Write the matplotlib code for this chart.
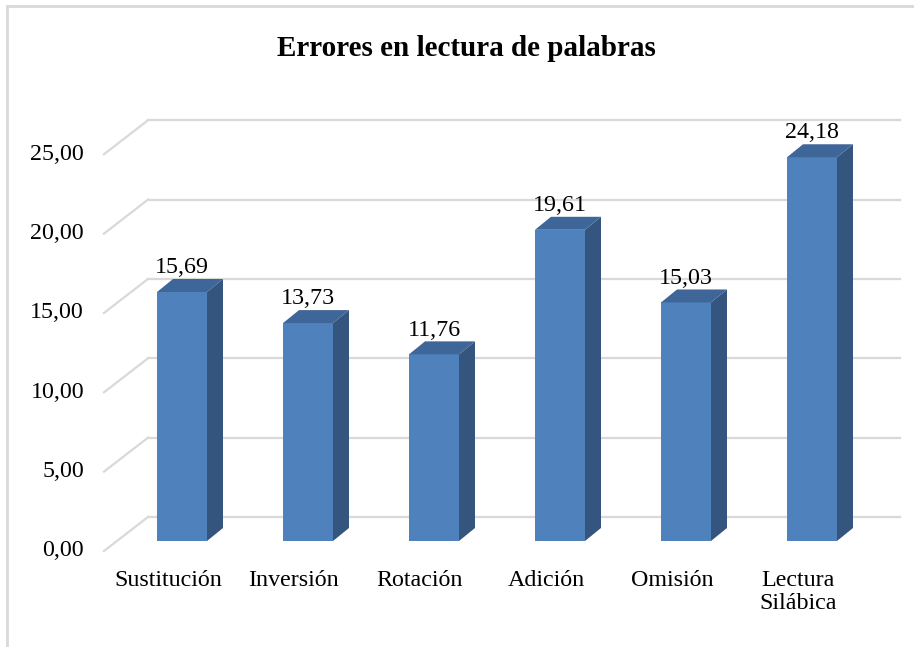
import matplotlib.pyplot as plt
from matplotlib.patches import Polygon, Rectangle
import numpy as np

plt.rcParams['font.family'] = ['Liberation Serif', 'DejaVu Serif']

categorias = ['Sustitución', 'Inversión', 'Rotación', 'Adición', 'Omisión', 'Lectura\nSilábica']
valores = [15.69, 13.73, 11.76, 19.61, 15.03, 24.18]
ticks = [0, 5, 10, 15, 20, 25]
tick_labels = ['0,00', '5,00', '10,00', '15,00', '20,00', '25,00']

front = '#4F81BD'
side = '#34557E'
top = '#3F6699'
grid = '#D9D9D9'

# pixel geometry of the 3d look, converted to data units
sx = 126.0   # px per category
sy = 15.87   # px per unit
ancho = 25 / sx
ddx = 16 / sx
ddy = 13 / sy
back_off = 24 / sy
front_off = -10 / sy
wall_front = -78 / sx
wall_back = -34 / sx
wall_right = 718 / sx

fig = plt.figure(figsize=(9.14, 6.47), dpi=100)
ax = fig.add_axes([0, 0, 1, 1])
ax.set_xlim(-182 / sx, (914 - 182) / sx)
ax.set_ylim((541 - 647) / sy, 541 / sy)
ax.axis('off')

# borde del grafico
fig.patches.append(Rectangle((7 / 914, -0.1), 1.2, (647 - 6) / 647 + 0.1,
                             transform=fig.transFigure, fill=False,
                             edgecolor='#D9D9D9', linewidth=2))

# lineas de la cuadricula (pared izquierda y pared del fondo)
for t, lab in zip(ticks, tick_labels):
    ax.plot([wall_front, wall_back], [t + front_off, t + back_off], color=grid, lw=1.6, zorder=1)
    ax.plot([wall_back, wall_right], [t + back_off, t + back_off], color=grid, lw=1.6, zorder=1)
    ax.text(-98 / sx, t + front_off, lab, ha='right', va='center', fontsize=17.3)

x = np.arange(len(valores))
ax.bar(x, valores, width=2 * ancho, color=front, zorder=3)
for xi, v in zip(x, valores):
    lado = [(xi + ancho, 0), (xi + ancho + ddx, ddy), (xi + ancho + ddx, v + ddy), (xi + ancho, v)]
    arriba = [(xi - ancho, v), (xi + ancho, v), (xi + ancho + ddx, v + ddy), (xi - ancho + ddx, v + ddy)]
    ax.add_patch(Polygon(lado, closed=True, facecolor=side, edgecolor='none', zorder=3))
    ax.add_patch(Polygon(arriba, closed=True, facecolor=top, edgecolor='none', zorder=3))
    ax.text(xi, v + ddy + 0.05, f'{v:.2f}'.replace('.', ','), ha='center', va='bottom', fontsize=17.3)

for xi, c in zip(x, categorias):
    ax.text(xi - 14 / sx, -29 / sy, c, ha='center', va='top', fontsize=17.3, linespacing=1.15)

ax.text(466 / sx - 182 / sx, (541 - 48) / sy, 'Errores en lectura de palabras',
        ha='center', va='center', fontsize=21, fontweight='bold')

fig.savefig('out.png', dpi=100)
